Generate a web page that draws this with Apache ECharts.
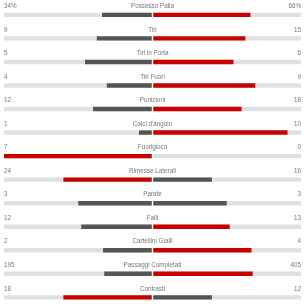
<!DOCTYPE html>
<html>
<head>
<meta charset="utf-8">
<script src="https://cdn.jsdelivr.net/npm/echarts@6/dist/echarts.min.js"></script>
<style>html,body{margin:0;padding:0;background:#fff;}#c{width:304px;height:306px;}</style>
</head>
<body>
<div id="c"></div>
<script>
const categories = ["Possesso Palla","Tiri","Tiri in Porta","Tiri Fuori","Punizioni","Calci d'angolo","Fuorigioco","Rimesse Laterali","Parate","Falli","Cartellini Gialli","Passaggi Completati","Contrasti"];
const leftValues = [34,9,5,4,12,1,7,24,3,12,2,195,18];
const rightValues = [66,15,6,9,18,10,0,16,3,13,4,405,12];
const leftLabels = ["34%","9","5","4","12","1","7","24","3","12","2","195","18"];
const rightLabels = ["66%","15","6","9","18","10","0","16","3","13","4","405","12"];

const RED = '#c80000', GREY = '#555555', TRACK = '#e0e0e0', TXT = '#777777';
const FONT = '6.3px "Liberation Sans", Arial, sans-serif';

const data = categories.map((c, i) => [i, leftValues[i], rightValues[i]]);

const chart = echarts.init(document.getElementById('c'), null, {renderer: 'canvas'});
chart.setOption({
  animation: false,
  grid: {left: 4, right: 3, top: 0, bottom: 0},
  xAxis: {type: 'value', min: -1, max: 1, show: false},
  yAxis: {type: 'category', data: categories, inverse: true, show: false},
  series: [{
    type: 'custom',
    data: data,
    renderItem: function (params, api) {
      const i = api.value(0), l = api.value(1), r = api.value(2);
      const tot = l + r;
      const fl = tot ? l / tot : 0, fr = tot ? r / tot : 0;
      const c = api.coord([0, i]);
      const cx = c[0], cy = c[1];
      const xl = api.coord([-1, i])[0], xr = api.coord([1, i])[0];
      const xL = api.coord([-fl, i])[0], xR = api.coord([fr, i])[0];
      const by = cy + 0.9, bh = 4.4, g = 0.75;
      const lc = l > r ? RED : GREY, rc = r > l ? RED : GREY;
      const children = [
        {type: 'rect', shape: {x: xl, y: by, width: cx - g - xl, height: bh}, style: {fill: TRACK}},
        {type: 'rect', shape: {x: cx + g, y: by, width: xr - cx - g, height: bh}, style: {fill: TRACK}},
        {type: 'text', style: {text: leftLabels[i], x: xl, y: cy - 5.4, textAlign: 'left', textVerticalAlign: 'middle', fill: TXT, font: FONT}},
        {type: 'text', style: {text: rightLabels[i], x: xr, y: cy - 5.4, textAlign: 'right', textVerticalAlign: 'middle', fill: TXT, font: FONT}},
        {type: 'text', style: {text: categories[i], x: cx, y: cy - 5.4, textAlign: 'center', textVerticalAlign: 'middle', fill: TXT, font: FONT}}
      ];
      if (l > 0) children.push({type: 'rect', shape: {x: xL, y: by, width: Math.max(0, cx - g - xL), height: bh}, style: {fill: lc}});
      if (r > 0) children.push({type: 'rect', shape: {x: cx + g, y: by, width: Math.max(0, xR - cx - g), height: bh}, style: {fill: rc}});
      return {type: 'group', children: children};
    }
  }]
});
</script>
</body>
</html>
